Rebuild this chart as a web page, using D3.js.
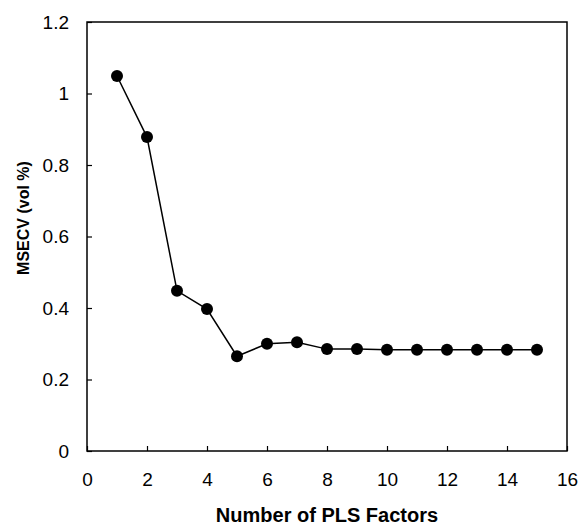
<!DOCTYPE html>
<html>
<head>
<meta charset="utf-8">
<script src="https://cdn.jsdelivr.net/npm/d3@7"></script>
<style>
body { margin: 0; background: #fff; }
text { font-family: "Liberation Sans", Arial, sans-serif; }
</style>
</head>
<body>
<div id="chart"></div>
<script>
var factors = [1, 2, 3, 4, 5, 6, 7, 8, 9, 10, 11, 12, 13, 14, 15];
var msecv = [1.049, 0.878, 0.448, 0.397, 0.265, 0.300, 0.304, 0.285, 0.285, 0.283, 0.283, 0.283, 0.283, 0.283, 0.283];
var xTicks = [0, 2, 4, 6, 8, 10, 12, 14, 16];
var yTicks = [0, 0.2, 0.4, 0.6, 0.8, 1, 1.2];

var w = 581, h = 525;
var margin = {top: 22, right: 14, bottom: 74, left: 87};

var svg = d3.select("#chart").append("svg")
    .attr("width", w)
    .attr("height", h);

var x = d3.scaleLinear().domain([0, 16]).range([margin.left, w - margin.right]);
var y = d3.scaleLinear().domain([0, 1.2]).range([h - margin.bottom, margin.top]);

// frame
svg.append("rect")
    .attr("x", x(0)).attr("y", y(1.2))
    .attr("width", x(16) - x(0)).attr("height", y(0) - y(1.2))
    .attr("fill", "none").attr("stroke", "#000").attr("stroke-width", 1.5);

var xAxis = svg.append("g")
    .attr("transform", "translate(0," + y(0) + ")")
    .call(d3.axisBottom(x).tickValues(xTicks).tickSize(-5).tickPadding(22).tickFormat(d3.format("d")));
xAxis.select(".domain").remove();
xAxis.selectAll("text").attr("font-size", 19).attr("fill", "#000");
xAxis.selectAll("line").attr("stroke-width", 1.2);

var yAxis = svg.append("g")
    .attr("transform", "translate(" + x(0) + ",0)")
    .call(d3.axisLeft(y).tickValues(yTicks).tickSize(-5).tickPadding(18).tickFormat(function(d){ return d; }));
yAxis.select(".domain").remove();
yAxis.selectAll("text").attr("font-size", 19).attr("fill", "#000");
yAxis.selectAll("line").attr("stroke-width", 1.2);

var line = d3.line()
    .x(function(d, i){ return x(factors[i]); })
    .y(function(d){ return y(d); });

svg.append("path")
    .attr("d", line(msecv))
    .attr("fill", "none")
    .attr("stroke", "#000")
    .attr("stroke-width", 1.5);

svg.selectAll("circle.pt")
    .data(msecv)
    .enter()
    .append("circle")
    .attr("class", "pt")
    .attr("cx", function(d, i){ return x(factors[i]); })
    .attr("cy", function(d){ return y(d); })
    .attr("r", 6)
    .attr("fill", "#000");

svg.append("text")
    .attr("x", (x(0) + x(16)) / 2)
    .attr("y", 522)
    .attr("text-anchor", "middle")
    .attr("font-size", 20)
    .attr("font-weight", "bold")
    .text("Number of PLS Factors");

svg.append("text")
    .attr("transform", "translate(29,218) rotate(-90)")
    .attr("text-anchor", "middle")
    .attr("font-size", 16)
    .attr("font-weight", "bold")
    .text("MSECV (vol %)");
</script>
</body>
</html>
